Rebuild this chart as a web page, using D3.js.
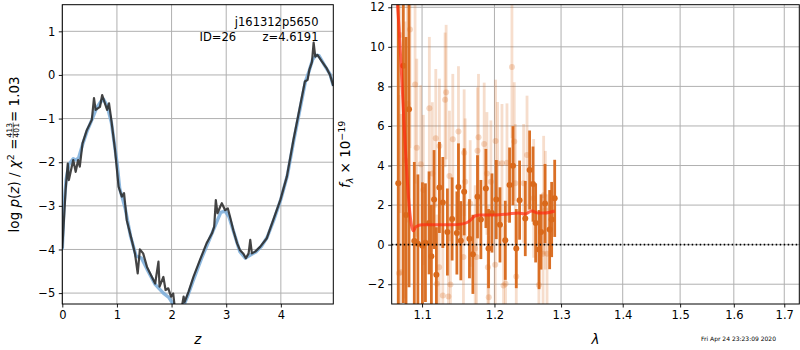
<!DOCTYPE html>
<html><head><meta charset="utf-8">
<script src="https://cdn.jsdelivr.net/npm/d3@7"></script>
<style>body{margin:0;background:#fff} svg{display:block} text{font-family:"DejaVu Sans",sans-serif}</style>
</head><body><svg id="c" width="800" height="350"></svg>
<script>
// ---- left panel: log p(z) ----
const zDark = [0,0.037,0.06,0.1,0.12,0.16,0.2,0.245,0.29,0.32,0.37,0.45,0.54,0.58,0.61,0.69,0.73,0.78,0.82,0.855,0.89,0.965,1.03,1.09,1.13,1.18,1.27,1.33,1.38,1.42,1.48,1.55,1.64,1.70,1.76,1.78,1.85,1.89,1.94,1.99,2.03,2.06,2.12,2.19,2.22,2.24,2.31,2.4,2.52,2.64,2.74,2.78,2.81,2.84,2.89,2.92,2.98,3.03,3.07,3.13,3.2,3.25,3.31,3.36,3.41,3.44,3.47,3.53,3.62,3.74,3.86,3.99,4.11,4.23,4.35,4.44,4.49,4.52,4.57,4.6,4.63,4.67,4.75,4.84,4.9,4.96];
const logpDark = [-3.97,-3.17,-2.64,-2.03,-2.41,-2.18,-1.95,-2.22,-1.95,-2.1,-1.57,-1.26,-1.03,-0.53,-0.8,-0.73,-0.46,-0.65,-0.8,-0.65,-0.96,-1.72,-2.56,-2.79,-2.71,-3.33,-3.78,-4.09,-4.55,-4.0,-4.09,-4.4,-4.63,-4.78,-4.28,-4.85,-4.63,-4.93,-4.89,-5.08,-5.01,-5.35,-5.5,-5.3,-5.08,-5.2,-4.97,-4.63,-4.24,-3.86,-3.63,-3.48,-2.87,-3.17,-3.02,-2.94,-3.1,-3.06,-3.25,-3.56,-3.86,-4.01,-4.09,-4.2,-4.09,-3.78,-4.09,-4.05,-3.94,-3.75,-3.33,-2.87,-2.33,-1.49,-0.73,-0.15,-0.11,0.11,0.3,0.74,0.42,0.46,0.31,0.15,0.0,-0.25];
const zSmooth = [0,0.03,0.07,0.12,0.2,0.25,0.3,0.37,0.45,0.55,0.63,0.7,0.75,0.82,0.9,1.0,1.05,1.15,1.25,1.35,1.45,1.55,1.7,1.85,1.95,2.05,2.2,2.3,2.4,2.55,2.7,2.8,2.9,2.98,3.05,3.15,3.25,3.35,3.45,3.55,3.65,3.75,3.87,4.0,4.12,4.24,4.36,4.45,4.52,4.58,4.64,4.7,4.8,4.9,4.96];
const logpSmooth = [-4.0,-3.0,-2.4,-2.05,-1.92,-1.95,-1.9,-1.6,-1.3,-1.0,-0.75,-0.62,-0.55,-0.7,-1.1,-2.0,-2.6,-3.05,-3.7,-4.15,-4.2,-4.45,-4.8,-5.0,-5.1,-5.3,-5.35,-5.05,-4.7,-4.2,-3.75,-3.45,-3.15,-3.12,-3.25,-3.65,-4.05,-4.2,-4.12,-4.05,-3.92,-3.72,-3.33,-2.85,-2.3,-1.48,-0.72,-0.15,0.1,0.35,0.45,0.44,0.22,0.02,-0.25];
const zTicks = [0,1,2,3,4];
const logpTicks = [-5,-4,-3,-2,-1,0,1];

// ---- right panel: spectrum ----
const lamTicks = [1.1,1.2,1.3,1.4,1.5,1.6,1.7];
const fluxTicks = [-2,0,2,4,6,8,10,12];
const darkLam = [1.0690,1.0755,1.0790,1.0829,1.0898,1.0945,1.1005,1.1045,1.1093,1.1124,1.1160,1.1191,1.1232,1.1278,1.1340,1.1405,1.1470,1.1492,1.1525,1.1571,1.1645,1.1693,1.1758,1.1806,1.1877,1.1915,1.1964,1.2026,1.2080,1.2157,1.2220,1.2270,1.2319,1.2368,1.2453,1.2518,1.2569,1.2609,1.2661,1.2691,1.2752,1.2823,1.2854,1.2901];
const darkFlux = [3.1,9.05,1.5,6.85,0.18,0.05,-0.05,0.1,1.1,-0.59,2.28,-1.52,2.89,2.13,0.64,1.3,0.59,2.92,0.2,2.67,0.3,-0.49,2.42,1.27,2.84,-0.2,1.6,2.28,1.0,0.22,3.01,3.99,-0.2,2.25,1.32,3.77,3.06,1.1,-0.25,0.64,2.08,0.76,1.27,2.34];
const darkErr = [10,12,9,9,4,3.5,3.2,3,2.6,2.6,2.5,2.4,2.3,2.3,2.2,2.1,2.1,2.2,2.0,2.2,2.0,2.0,2.1,2.0,2.0,2.0,2.0,2.0,1.9,2.0,1.9,2.0,2.0,2.0,1.9,2.0,1.9,2.0,2.0,1.9,2.0,2.0,1.9,1.95];
const lightLam = [1.0699,1.0712,1.0725,1.0777,1.0807,1.0842,1.0908,1.0930,1.0983,1.1017,1.1097,1.1137,1.1183,1.1197,1.1228,1.1232,1.1278,1.1309,1.1323,1.1354,1.1368,1.1382,1.1414,1.1492,1.1561,1.1571,1.1585,1.1655,1.1725,1.1744,1.1758,1.1772,1.1853,1.1892,1.1906,1.1918,1.1949,1.2011,1.2016,1.2045,1.2109,1.2132,1.2161,1.2182,1.2255,1.2289,1.2304,1.2319,1.2428,1.2479,1.2579,1.2658,1.2722,1.2731,1.2757,1.2783];
const lightFlux = [-1.44,10.6,-1.39,4.28,7.12,10.88,8.09,4.9,4.06,2.76,6.9,3.6,5.38,-1.98,-1.14,4.99,-2.57,7.32,7.71,-2.62,3.47,-2.01,5.33,5.72,-0.63,4.65,3.18,2.08,-0.2,-0.63,4.75,5.43,5.09,3.6,-1.14,-2.66,3.18,-1.02,5.24,4.11,4.11,-2.07,-1.98,4.14,8.98,5.21,3.1,-1.61,3.1,4.53,2.34,-2.04,-0.46,2.5,1.74,-0.46];
const lightErr = [9,9,8,7,6,6,5,4.5,4,3.8,3.6,3.6,3.5,3.5,3.5,3.4,3.4,3.4,3.4,3.3,3.3,3.3,3.3,3.3,3.2,3.2,3.2,3.2,3.2,3.2,3.2,3.2,3.1,3.1,3.1,3.1,3.1,3.1,3.1,3.1,3.0,3.0,3.0,3.0,3.6,3.0,3.0,3.0,3.0,3.0,3.0,3.0,3.0,3.0,3.0,3.0];
const modelLam = [1.066,1.070,1.074,1.078,1.082,1.086,1.0885,1.092,1.10,1.12,1.14,1.155,1.165,1.172,1.18,1.20,1.22,1.235,1.245,1.255,1.265,1.275,1.29];
const modelFlux = [13,11,8,5,2.5,1.0,0.7,0.9,1.0,1.0,1.0,1.05,1.2,1.45,1.5,1.5,1.55,1.6,1.55,1.7,1.6,1.6,1.7];

const svg = d3.select('#c');
const L = {x0:62.3, x1:333.3, y0:4.7, y1:304};
const R = {x0:391.7, x1:799.3, y0:4.7, y1:304};
const xz = d3.scaleLinear().domain([0,4.96]).range([L.x0,L.x1]);
const yl = d3.scaleLinear().domain([-5.25,1.61]).range([L.y1,L.y0]);
const xl = d3.scaleLog().domain([1.0606,1.731]).range([R.x0,R.x1]);
const yf = d3.scaleLinear().domain([-3.0,12.13]).range([R.y1,R.y0]);
const gridC = '#b0b0b0', FS = 11.5, LFS = 13.5;

const defs = svg.append('defs');
defs.append('clipPath').attr('id','clipL').append('rect').attr('x',L.x0).attr('y',L.y0).attr('width',L.x1-L.x0).attr('height',L.y1-L.y0);
defs.append('clipPath').attr('id','clipR').append('rect').attr('x',R.x0).attr('y',R.y0).attr('width',R.x1-R.x0).attr('height',R.y1-R.y0);

function grid(P, xs, ys, xt, yt){
  const g = svg.append('g');
  g.selectAll('.gx').data(xt).join('line').attr('x1',d=>xs(d)).attr('x2',d=>xs(d)).attr('y1',P.y0).attr('y2',P.y1).attr('stroke',gridC).attr('stroke-width',1);
  g.selectAll('.gy').data(yt).join('line').attr('y1',d=>ys(d)).attr('y2',d=>ys(d)).attr('x1',P.x0).attr('x2',P.x1).attr('stroke',gridC).attr('stroke-width',1);
}
function axes(P, xs, ys, xt, yt, xf, yfmt){
  const ax = svg.append('g').attr('transform',`translate(0,${P.y1})`)
    .call(d3.axisBottom(xs).tickValues(xt).tickSize(3.5).tickPadding(3.5).tickFormat(xf));
  const ay = svg.append('g').attr('transform',`translate(${P.x0},0)`)
    .call(d3.axisLeft(ys).tickValues(yt).tickSize(3.5).tickPadding(3.5).tickFormat(yfmt));
  [ax,ay].forEach(a=>{a.select('.domain').remove(); a.selectAll('text').attr('font-size',FS).attr('font-family','DejaVu Sans').attr('fill','#000'); a.selectAll('line').attr('stroke','#000').attr('stroke-width',0.9);});
  svg.append('rect').attr('x',P.x0).attr('y',P.y0).attr('width',P.x1-P.x0).attr('height',P.y1-P.y0).attr('fill','none').attr('stroke','#000').attr('stroke-width',1);
}

// Left panel
grid(L, xz, yl, zTicks, logpTicks);
const gl = svg.append('g').attr('clip-path','url(#clipL)');
const lineL = d3.line().x(d=>xz(d[0])).y(d=>yl(d[1]));
gl.append('path').datum(d3.zip(zSmooth,logpSmooth)).attr('d',lineL).attr('fill','none').attr('stroke','#79acd9').attr('stroke-width',3.4).attr('stroke-linejoin','round').attr('opacity',0.85);
gl.append('path').datum(d3.zip(zDark,logpDark)).attr('d',lineL).attr('fill','none').attr('stroke','#2a2a2a').attr('stroke-width',2.2).attr('stroke-linejoin','round').attr('opacity',0.88);
axes(L, xz, yl, zTicks, logpTicks, d3.format('d'), d3.format('d'));

svg.append('text').attr('x',318.5).attr('y',26).attr('text-anchor','end').attr('font-size',FS).text('j161312p5650');
svg.append('text').attr('x',199.5).attr('y',40.5).attr('font-size',FS).text('ID=26');
svg.append('text').attr('x',318.5).attr('y',40.5).attr('text-anchor','end').attr('font-size',FS).text('z=4.6191');

// Right panel
grid(R, xl, yf, lamTicks, fluxTicks);
const gr = svg.append('g').attr('clip-path','url(#clipR)');
const oc = '#d9691b';
const light = d3.zip(lightLam, lightFlux, lightErr);
const dark = d3.zip(darkLam, darkFlux, darkErr);
gr.selectAll('.le').data(light).join('line').attr('x1',d=>xl(d[0])).attr('x2',d=>xl(d[0])).attr('y1',d=>yf(d[1]-d[2])).attr('y2',d=>yf(d[1]+d[2])).attr('stroke',oc).attr('stroke-width',2.8).attr('opacity',0.22);
gr.selectAll('.lp').data(light).join('circle').attr('cx',d=>xl(d[0])).attr('cy',d=>yf(d[1])).attr('r',3).attr('fill',oc).attr('opacity',0.25);
gr.selectAll('.de').data(dark).join('line').attr('x1',d=>xl(d[0])).attr('x2',d=>xl(d[0])).attr('y1',d=>yf(d[1]-d[2])).attr('y2',d=>yf(d[1]+d[2])).attr('stroke',oc).attr('stroke-width',2.8).attr('opacity',0.95);
gr.selectAll('.dp').data(dark).join('circle').attr('cx',d=>xl(d[0])).attr('cy',d=>yf(d[1])).attr('r',3).attr('fill',oc);
gr.append('path').datum(d3.zip(modelLam,modelFlux)).attr('d',d3.line().x(d=>xl(d[0])).y(d=>yf(d[1])).curve(d3.curveMonotoneX))
  .attr('fill','none').attr('stroke','#ff2a10').attr('stroke-width',3).attr('opacity',0.7).attr('stroke-linejoin','round');
gr.append('line').attr('x1',R.x0).attr('x2',R.x1).attr('y1',yf(0)).attr('y2',yf(0)).attr('stroke','#000').attr('stroke-width',1.6).attr('stroke-dasharray','1.5,2.5');
axes(R, xl, yf, lamTicks, fluxTicks, d3.format('.1f'), d3.format('d'));

// axis labels
svg.append('text').attr('x',(L.x0+L.x1)/2).attr('y',344).attr('text-anchor','middle').attr('font-size',LFS).attr('font-style','italic').text('z');
svg.append('text').attr('x',(R.x0+R.x1)/2).attr('y',344).attr('text-anchor','middle').attr('font-size',LFS).attr('font-style','italic').text('λ');

// left y label (rotated, with fraction)
{
  const g = svg.append('g');
  const t1 = g.append('text').attr('font-size',LFS);
  t1.append('tspan').text('log ');
  t1.append('tspan').attr('font-style','italic').text('p');
  t1.append('tspan').text('(');
  t1.append('tspan').attr('font-style','italic').text('z');
  t1.append('tspan').text(') / ');
  t1.append('tspan').attr('font-style','italic').text('χ');
  t1.append('tspan').attr('font-size',9.5).attr('dy',-5).text('2');
  t1.append('tspan').attr('dy',5).text(' = ');
  const w1 = t1.node().getComputedTextLength();
  const num = g.append('text').attr('font-size',7.6).attr('text-anchor','middle').attr('y',-6.4).text('413');
  const den = g.append('text').attr('font-size',7.6).attr('text-anchor','middle').attr('y',0.6).text('401');
  const wf = Math.max(num.node().getComputedTextLength(), den.node().getComputedTextLength()) + 1;
  const fx = w1 + 0.5;
  num.attr('x', fx + wf/2); den.attr('x', fx + wf/2);
  g.append('line').attr('x1',fx).attr('x2',fx+wf).attr('y1',-5.3).attr('y2',-5.3).attr('stroke','#000').attr('stroke-width',0.6);
  const t2 = g.append('text').attr('font-size',LFS).attr('x',fx+wf+0.5).text(' = 1.03');
  const W = fx + wf + 0.5 + t2.node().getComputedTextLength();
  g.attr('transform',`translate(18.5,${(L.y0+L.y1)/2 + W/2}) rotate(-90)`);
}
// right y label
{
  const g = svg.append('g');
  const t = g.append('text').attr('font-size',LFS);
  t.append('tspan').attr('font-style','italic').text('f');
  t.append('tspan').attr('font-size',9.5).attr('font-style','italic').attr('dy',3).text('λ');
  t.append('tspan').attr('dy',-3).text(' × 10');
  t.append('tspan').attr('font-size',9.5).attr('dy',-5).text('−19');
  const W = t.node().getComputedTextLength();
  g.attr('transform',`translate(350,${(R.y0+R.y1)/2 + W/2}) rotate(-90)`);
}
// timestamp
svg.append('text').attr('x',701).attr('y',341).attr('font-size',6).text('Fri Apr 24 23:23:09 2020');
</script></body></html>
